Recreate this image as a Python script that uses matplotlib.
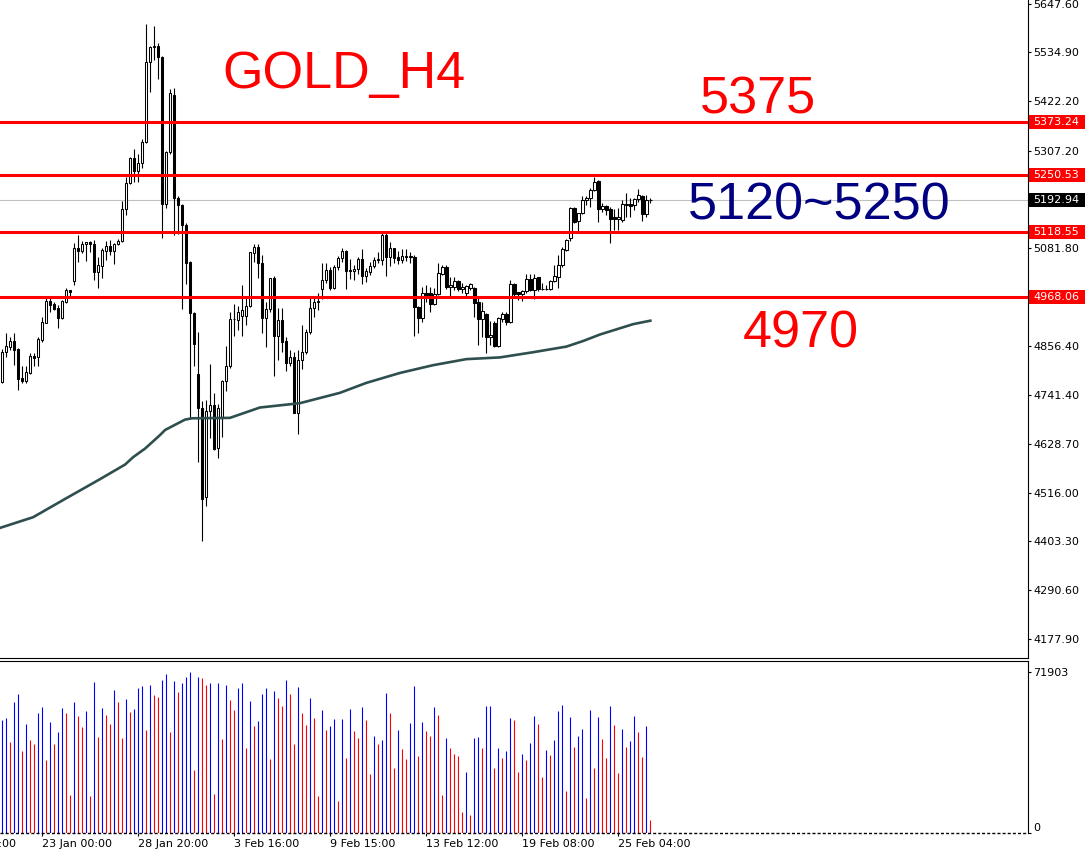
import matplotlib
matplotlib.use("Agg")
import matplotlib.pyplot as plt
from matplotlib.patches import Rectangle

# GOLD H4 candles (bar 0 = left edge)
opens = [4773, 4842, 4854, 4866, 4848, 4781, 4775, 4794, 4832, 4829,
         4869, 4909, 4960, 4953, 4943, 4921, 4958, 4984, 5007, 5082,
         5076, 5092, 5096, 5092, 5027, 5041, 5076, 5087, 5076, 5092,
         5099, 5172, 5233, 5290, 5261, 5278, 5327, 5514, 5547, 5550,
         5524, 5184, 5305, 5437, 5197, 5181, 5135, 5051, 4931, 4791,
         4711, 4505, 4704, 4719, 4620, 4688, 4775, 4808, 4918, 4916,
         4926, 4926, 4947, 5070, 5085, 5047, 4920, 4940, 5012, 4879,
         4916, 4867, 4817, 4829, 4701, 4823, 4841, 4887, 4943, 4957,
         4987, 5008, 5031, 4990, 5038, 5058, 5075, 5031, 5028, 5033,
         5056, 5018, 5026, 5041, 5055, 5055, 5112, 5061, 5082, 5061,
         5055, 5061, 5062, 5061, 4946, 4920, 4979, 4977, 4953, 4975,
         5022, 5038, 4991, 4991, 5006, 4988, 4979, 4989, 4990, 4958,
         4917, 4930, 4877, 4908, 4856, 4918, 4930, 4912, 4998, 4980,
         4975, 4983, 5010, 4985, 5014, 4988, 4988, 4987, 5006, 5016,
         5043, 5078, 5105, 5174, 5145, 5163, 5193, 5197, 5217, 5238,
         5172, 5180, 5172, 5155, 5149, 5147, 5182, 5184, 5181, 5195,
         5203, 5161, 5192.6]
highs = [4849, 4886, 4876, 4885, 4850, 4808, 4808, 4839, 4839, 4877,
         4923, 4966, 4966, 4958, 4950, 4962, 4990, 4986, 5093, 5112,
         5099, 5097, 5099, 5101, 5061, 5082, 5099, 5101, 5093, 5102,
         5190, 5247, 5292, 5312, 5300, 5334, 5601, 5551, 5597, 5556,
         5526, 5306, 5450, 5452, 5203, 5183, 5140, 5053, 4934, 4887,
         4729, 4731, 4813, 4747, 4720, 4776, 4856, 4934, 4953, 4949,
         4996, 4969, 5074, 5092, 5092, 5066, 4958, 5013, 5018, 4943,
         4943, 4877, 4846, 4842, 4846, 4904, 4894, 4966, 4966, 4977,
         5047, 5047, 5038, 5043, 5064, 5082, 5078, 5056, 5043, 5062,
         5079, 5035, 5051, 5061, 5074, 5116, 5116, 5097, 5083, 5075,
         5079, 5079, 5074, 5065, 4948, 4993, 4997, 4991, 4989, 5047,
         5043, 5043, 5016, 5016, 5008, 5001, 4997, 5001, 4993, 4967,
         4958, 4931, 4913, 4913, 4923, 4933, 4933, 5008, 5001, 4981,
         4985, 5022, 5022, 5022, 5016, 5001, 4997, 5008, 5043, 5066,
         5084, 5102, 5178, 5177, 5164, 5203, 5203, 5221, 5247, 5240,
         5186, 5182, 5178, 5172, 5174, 5193, 5210, 5197, 5197, 5218,
         5206, 5205, 5197]
lows = [4770, 4831, 4846, 4811, 4754, 4769, 4769, 4791, 4808, 4809,
        4865, 4908, 4935, 4939, 4898, 4919, 4956, 4970, 4997, 5051,
        5070, 5053, 5074, 5008, 4989, 5012, 5055, 5066, 5045, 5089,
        5097, 5159, 5231, 5236, 5236, 5267, 5325, 5444, 5518, 5473,
        5105, 5174, 5301, 5113, 5115, 4942, 5000, 4688, 4809, 4587,
        4403, 4484, 4642, 4615, 4596, 4645, 4751, 4805, 4879, 4892,
        4879, 4903, 4946, 5051, 5012, 4886, 4852, 4934, 4787, 4823,
        4842, 4798, 4808, 4700, 4652, 4802, 4837, 4883, 4922, 4939,
        4964, 5002, 4985, 4987, 5031, 5050, 4987, 5010, 5008, 5021,
        4999, 5004, 5020, 5037, 5047, 5043, 5018, 5041, 5048, 5045,
        5048, 5053, 5047, 4879, 4886, 4912, 4958, 4933, 4950, 4973,
        5020, 4987, 4971, 4985, 4983, 4977, 4970, 4985, 4922, 4858,
        4877, 4840, 4858, 4853, 4853, 4912, 4904, 4909, 4970, 4962,
        4960, 4979, 4983, 4964, 4983, 4985, 4985, 4985, 5004, 4989,
        5039, 5075, 5099, 5141, 5120, 5160, 5182, 5178, 5215, 5143,
        5166, 5159, 5093, 5124, 5124, 5143, 5155, 5153, 5170, 5189,
        5145, 5155, 5186]
closes = [4842, 4855, 4866, 4846, 4779, 4775, 4795, 4832, 4828, 4871,
          4911, 4960, 4950, 4942, 4921, 4960, 4985, 4981, 5082, 5076,
          5092, 5096, 5092, 5027, 5043, 5078, 5087, 5076, 5092, 5099,
          5172, 5233, 5290, 5261, 5278, 5327, 5514, 5547, 5550, 5524,
          5184, 5305, 5440, 5197, 5181, 5135, 5048, 4931, 4859, 4712,
          4501, 4705, 4719, 4618, 4713, 4774, 4809, 4918, 4919, 4934,
          4938, 4947, 5072, 5084, 5047, 4920, 4940, 5012, 4879, 4916,
          4865, 4817, 4831, 4701, 4823, 4841, 4887, 4943, 4958, 4960,
          5008, 5031, 4990, 5038, 5058, 5075, 5030, 5030, 5033, 5056,
          5018, 5029, 5041, 5055, 5057, 5112, 5061, 5082, 5058, 5055,
          5064, 5064, 5064, 4945, 4920, 4979, 4974, 4953, 4975, 5025,
          5038, 4991, 4997, 5007, 4987, 4993, 4995, 4998, 4956, 4917,
          4937, 4877, 4881, 4855, 4921, 4930, 4912, 4998, 4975, 4975,
          4983, 5010, 4985, 5012, 4987, 4987, 4987, 5006, 5018, 5043,
          5079, 5101, 5176, 5143, 5163, 5193, 5197, 5217, 5236, 5172,
          5180, 5170, 5149, 5149, 5153, 5183, 5184, 5180, 5195, 5205,
          5161, 5193, 5192.94]
volumes = [50510, 51400, 40850, 58380, 62100, 36400, 48730, 41600, 39810, 53780,
           56300, 32680, 49770, 39810, 45310, 55860, 53780, 17080, 58530, 52290,
           47390, 54520, 16340, 67450, 42930, 55860, 52740, 48730, 63880, 58530,
           42640, 59870, 54080, 55410, 64770, 65660, 46050, 66260, 61800, 60760,
           68340, 71010, 45310, 67890, 62990, 67000, 69670, 71903, 28230, 69670,
           69230, 66260, 66850, 17530, 67000, 41890, 66110, 59420, 54970, 64770,
           67000, 38030, 58980, 47840, 50060, 62100, 64770, 33130, 63430, 60320,
           56750, 68340, 62250, 39810, 65220, 53780, 48280, 60320, 51400, 16640,
           54970, 46050, 47840, 50960, 14410, 50960, 33570, 55410, 45610, 42640,
           56300, 50510, 26440, 43380, 39810, 41600, 62540, 53630, 29120, 46050,
           37590, 33130, 49170, 65660, 34470, 49620, 45610, 43380, 56300, 52740,
           17080, 42490, 38030, 35360, 34470, 9510, 27340, 8170, 42490, 42930,
           38030, 56750, 56900, 29120, 38030, 33570, 36690, 51400, 50510, 27340,
           35360, 32680, 40260, 52290, 48730, 25110, 37140, 34910, 41600, 54520,
           57200, 18870, 51850, 38480, 43380, 46500, 15750, 54970, 29120, 51850,
           42040, 33570, 56750, 48280, 26890, 46500, 38480, 41150, 52290, 45160,
           34020, 47840, 5940]

# moving average, read at a number of bar positions
ma_bars = [-1, 7.7, 16, 24.4, 30.7, 32.7, 35.7, 39.4, 40.7, 43.6, 45.7, 47.4,
           56.9, 64.4, 74.4, 84.4, 91, 99.4, 107.7, 116, 124.4, 132.7, 141,
           145.2, 149.4, 157.7, 162]
ma_values = [4433, 4459, 4503, 4547, 4581, 4598, 4618, 4649, 4661, 4675, 4685,
             4688, 4689, 4713, 4723, 4747, 4770, 4793, 4811, 4825, 4829, 4841,
             4854, 4867, 4882, 4906, 4914]

levels = [5373.24, 5250.53, 5118.55, 4968.06]
last_price = 5192.94
price_ticks = [5647.60, 5534.90, 5422.20, 5307.20, 5081.80, 4856.40,
               4741.40, 4628.70, 4516.00, 4403.30, 4290.60, 4177.90]
time_ticks = [10, 34, 58, 82, 106, 130, 154]
time_labels = ["23 Jan 00:00", "28 Jan 20:00", "3 Feb 16:00", "9 Feb 15:00",
               "13 Feb 12:00", "19 Feb 08:00", "25 Feb 04:00"]
vol_max = 71903

W, H = 1088, 856
fig = plt.figure(figsize=(W / 100, H / 100), dpi=100)
ax = fig.add_axes([0, 198 / H, 1028 / W, 658 / H])
axv = fig.add_axes([0, 23 / H, 1028 / W, 172 / H], sharex=ax)

n = len(opens)
xs = list(range(n))

# candles
ax.vlines(xs, lows, highs, color="black", lw=0.8, zorder=2)
bottoms = [min(o, c) for o, c in zip(opens, closes)]
heights = [max(abs(c - o), 0.4) for o, c in zip(opens, closes)]
faces = ["white" if c >= o else "black" for o, c in zip(opens, closes)]
ax.bar(xs, heights, bottom=bottoms, width=0.58, color=faces,
       edgecolor="black", linewidth=0.75, zorder=3)

ax.plot(ma_bars, ma_values, color="#2F4F4F", lw=1.9, zorder=4,
        solid_joinstyle="round")

ax.axhline(last_price, color="#C0C0C0", lw=0.8, zorder=1)
for lv in levels:
    ax.axhline(lv, color="#FF0000", lw=2.2, zorder=5)

ax.set_xlim(-0.575, 256.4)
ax.set_ylim(4133.1, 5656.4)

ax.yaxis.tick_right()
ax.set_yticks(price_ticks)
ax.set_yticklabels([f"{p:.2f}" for p in price_ticks])
ax.tick_params(axis="y", length=2.5, width=0.8, pad=1.5, labelsize=8,
               colors="black")
ax.tick_params(axis="x", bottom=False, labelbottom=False)
for s in ["left", "top"]:
    ax.spines[s].set_visible(False)
for s in ["right", "bottom"]:
    ax.spines[s].set_linewidth(0.8)

# price tags on the scale
ytr = ax.get_yaxis_transform()
tags = [(lv, "#FF0000") for lv in levels] + [(last_price, "black")]
for val, col in tags:
    ax.add_patch(Rectangle((1.0008, val - 16.5), 0.055, 33, transform=ytr,
                           facecolor=col, edgecolor="none", clip_on=False,
                           zorder=6))
    ax.text(1.0055, val, f"{val:.2f}", transform=ytr, color="white",
            fontsize=8, va="center", ha="left", clip_on=False, zorder=7)

# big annotations
big = dict(family="Liberation Sans", fontsize=37.5, va="baseline", ha="left")
fig.text(222 / W, 1 - 88 / H, "GOLD_H4", color="#FF0000", **big)
fig.text(700 / W, 1 - 114 / H, "5375", color="#FF0000", **big)
fig.text(688 / W, 1 - 220 / H, "5120~5250", color="#000080", **big)
fig.text(743 / W, 1 - 348 / H, "4970", color="#FF0000", **big)

# volume window
vcols = ["#0000FF"]
for i in range(1, n):
    vcols.append("#0000FF" if volumes[i] > volumes[i - 1] else "#FF0000")
axv.vlines(xs, 0, volumes, colors=vcols, lw=0.8)
axv.axhline(0, color="black", lw=1.0, ls=(0, (2.2, 1.5)), clip_on=False)
axv.set_ylim(0, 76800)
axv.yaxis.tick_right()
axv.set_yticks([0, vol_max])
axv.set_yticklabels(["0", str(vol_max)])
axv.get_yticklabels()[0].set_va("bottom")
axv.tick_params(axis="y", length=2.5, width=0.8, pad=1.5, labelsize=8)
for s in ["left", "bottom"]:
    axv.spines[s].set_visible(False)
for s in ["right", "top"]:
    axv.spines[s].set_linewidth(0.8)

axv.set_xticks(time_ticks)
axv.set_xticklabels(time_labels)
for lbl in axv.get_xticklabels():
    lbl.set_ha("left")
axv.tick_params(axis="x", length=2.5, width=0.8, pad=2, labelsize=8)
axv.annotate("19 Jan 00:00", xy=(-14, 0), xycoords=("data", "axes fraction"),
             xytext=(0, -4.5), textcoords="offset points", fontsize=8,
             ha="left", va="top", annotation_clip=False)

fig.savefig("out.png", dpi=100)
